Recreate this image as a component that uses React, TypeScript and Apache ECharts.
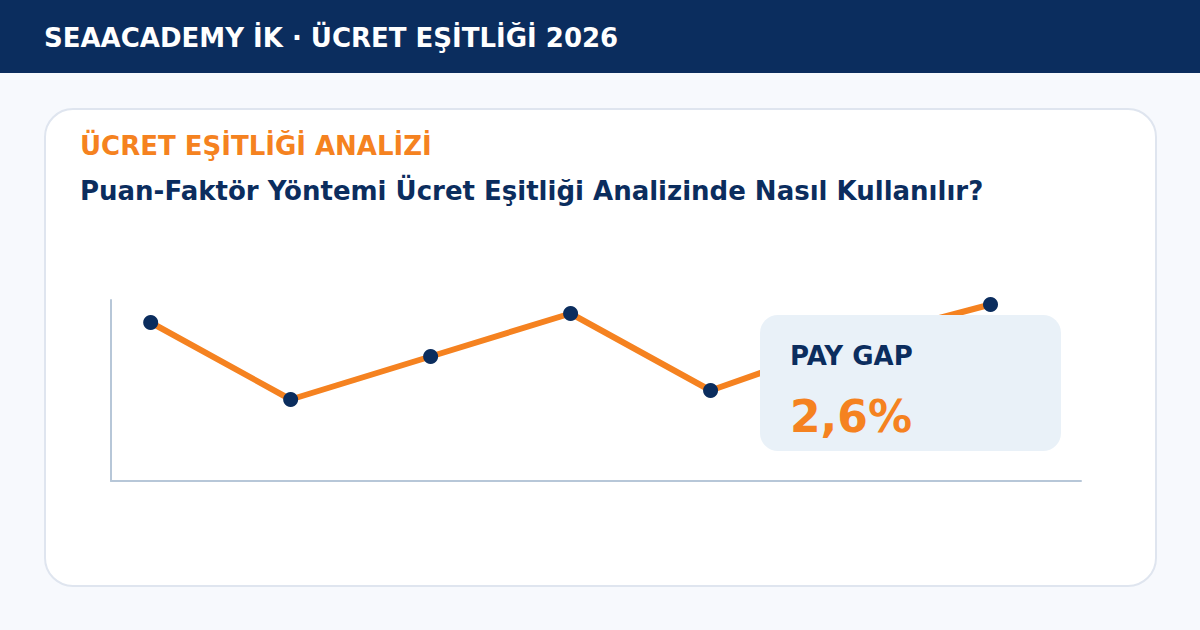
import React, { useEffect, useRef } from "react";
import * as echarts from "echarts";

const periods = [1, 2, 3, 4, 5, 6, 7];
const gapIndex = [159, 82, 125, 168, 91, 140, 177];

const headerText = "SEAACADEMY İK · ÜCRET EŞİTLİĞİ 2026";
const kicker = "ÜCRET EŞİTLİĞİ ANALİZİ";
const title = "Puan-Faktör Yöntemi Ücret Eşitliği Analizinde Nasıl Kullanılır?";
const boxLabel = "PAY GAP";
const boxValue = "2,6%";

const NAVY = "#0b2d5e";
const ORANGE = "#f58220";
const FONT = '"DejaVu Sans"';

const App = () => {
  const chartContainer = useRef<HTMLDivElement>(null);

  useEffect(() => {
    if (!chartContainer.current) return;
    const chart = echarts.init(chartContainer.current, null, { renderer: "svg" });

    const option: echarts.EChartsOption = {
      animation: false,
      backgroundColor: "#f7f9fd",
      grid: { left: 111, top: 300, width: 970, height: 181 },
      xAxis: {
        type: "value",
        min: 0.7165,
        max: 7.6465,
        splitLine: { show: false },
        axisTick: { show: false },
        axisLabel: { show: false },
        axisLine: { show: true, onZero: false, lineStyle: { color: "#b7c7d8", width: 2 } },
      },
      yAxis: {
        type: "value",
        min: 0.5,
        max: 181.5,
        splitLine: { show: false },
        axisTick: { show: false },
        axisLabel: { show: false },
        axisLine: { show: true, onZero: false, lineStyle: { color: "#b7c7d8", width: 2 } },
      },
      series: [
        {
          type: "line",
          data: periods.map((p, i) => [p, gapIndex[i]]),
          symbol: "circle",
          symbolSize: 15,
          lineStyle: { color: ORANGE, width: 6 },
          itemStyle: { color: NAVY },
          z: 5,
        },
      ],
      graphic: [
        { type: "rect", z: -2, shape: { x: 0, y: 0, width: 1200, height: 73 }, style: { fill: NAVY } },
        {
          type: "rect",
          z: -2,
          shape: { x: 45, y: 109, width: 1111, height: 477, r: 28 },
          style: { fill: "#ffffff", stroke: "#dfe5ef", lineWidth: 2 },
        },
        {
          type: "text",
          z: 20,
          x: 44,
          y: 38,
          style: { text: headerText, fill: "#ffffff", font: `bold 26px ${FONT}`, textVerticalAlign: "middle" },
        },
        {
          type: "text",
          z: 20,
          x: 80,
          y: 146,
          style: { text: kicker, fill: ORANGE, font: `bold 26px ${FONT}`, textVerticalAlign: "middle" },
        },
        {
          type: "text",
          z: 20,
          x: 80,
          y: 191,
          style: { text: title, fill: NAVY, font: `bold 26px ${FONT}`, textVerticalAlign: "middle" },
        },
        {
          type: "rect",
          z: 10,
          shape: { x: 760, y: 315, width: 301, height: 136, r: 18 },
          style: { fill: "#e9f1f8" },
        },
        {
          type: "text",
          z: 20,
          x: 790,
          y: 356,
          style: { text: boxLabel, fill: NAVY, font: `bold 26px ${FONT}`, textVerticalAlign: "middle" },
        },
        {
          type: "text",
          z: 20,
          x: 790,
          y: 416,
          style: { text: boxValue, fill: ORANGE, font: `bold 44px ${FONT}`, textVerticalAlign: "middle" },
        },
      ],
    };

    chart.setOption(option);
    return () => chart.dispose();
  }, []);

  return <div ref={chartContainer} style={{ position: "fixed", left: 0, top: 0, width: 1200, height: 630 }} />;
};

export default App;
